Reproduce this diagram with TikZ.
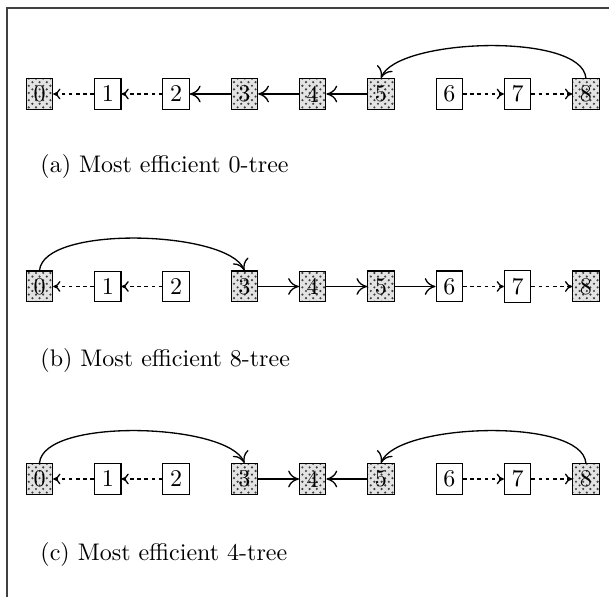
\documentclass[tikz,border=0pt]{standalone}
\usetikzlibrary{patterns,arrows.meta}
\begin{document}
\begin{tikzpicture}[x=0.41667pt,y=-0.41667pt,
  cell/.style={draw,line width=0.45pt,inner sep=3pt,fill=white},
  held/.style={draw,line width=0.45pt,inner sep=3pt,
    preaction={fill=gray!22},pattern=crosshatch dots,pattern color=black!75},
  link/.style={-{Computer Modern Rightarrow[length=4.5pt,width=7pt]},line width=0.55pt},
  weak/.style={-{Computer Modern Rightarrow[length=3pt,width=4.5pt]},line width=0.55pt,
    dash pattern=on 1.5pt off 1.5pt},
  caption/.style={anchor=west,inner sep=0pt}]
\useasboundingbox (0,0) rectangle (609,597);
% open frame: top rule and left rule
\draw[line width=0.6pt,black!75] (7,597) -- (7,8) -- (609,8);

% three rows of nine cells each
\foreach \r/\y in {a/94,b/286.5,c/479}{
  \foreach \i in {0,3,4,5,8}
    \node[held] (\r\i) at ({39.5+68.3*\i},\y) {\i};
  \foreach \i in {1,2,6,7}
    \node[cell] (\r\i) at ({39.5+68.3*\i},\y) {\i};
}

% (a) 0-tree
\draw[weak] (a1) -- (a0);
\draw[weak] (a2) -- (a1);
\draw[link] (a3) -- (a2);
\draw[link] (a4) -- (a3);
\draw[link] (a5) -- (a4);
\draw[weak] (a6) -- (a7);
\draw[weak] (a7) -- (a8);
\draw[link] (a8.north) .. controls +(-4,-46) and +(16,-40) .. (a5.north);
\node[caption] (capa) at (40,167) {(a) Most efficient 0-tree};

% (b) 8-tree
\draw[weak] (b1) -- (b0);
\draw[weak] (b2) -- (b1);
\draw[link] (b0.north) .. controls +(4,-46) and +(-16,-40) .. (b3.north);
\draw[link] (b3) -- (b4);
\draw[link] (b4) -- (b5);
\draw[link] (b5) -- (b6);
\draw[weak] (b6) -- (b7);
\draw[weak] (b7) -- (b8);
\node[caption] (capb) at (40,361) {(b) Most efficient 8-tree};

% (c) 4-tree
\draw[weak] (c1) -- (c0);
\draw[weak] (c2) -- (c1);
\draw[link] (c0.north) .. controls +(4,-46) and +(-16,-40) .. (c3.north);
\draw[link] (c3) -- (c4);
\draw[link] (c5) -- (c4);
\draw[weak] (c6) -- (c7);
\draw[weak] (c7) -- (c8);
\draw[link] (c8.north) .. controls +(-4,-46) and +(16,-40) .. (c5.north);
\node[caption] (capc) at (40,555) {(c) Most efficient 4-tree};
\end{tikzpicture}
\end{document}
